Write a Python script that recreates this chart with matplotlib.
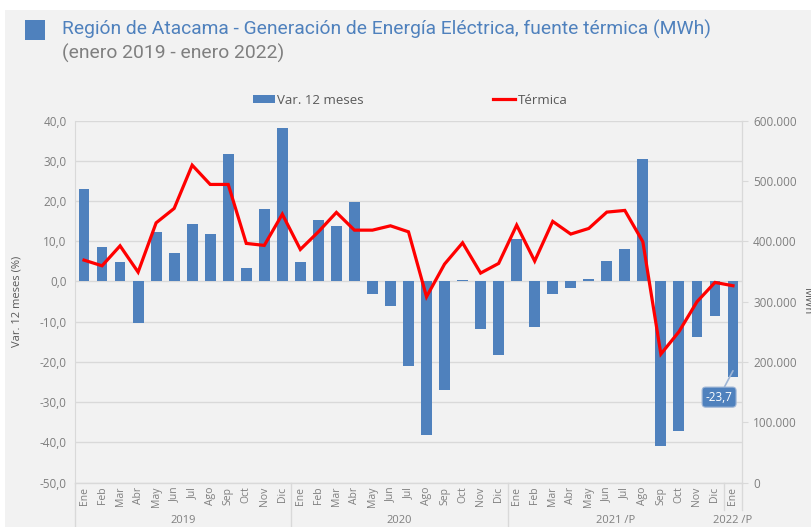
import matplotlib
matplotlib.use("Agg")
import matplotlib.pyplot as plt
from matplotlib.patches import Rectangle
from matplotlib.ticker import FuncFormatter, MultipleLocator

months = ["Ene", "Feb", "Mar", "Abr", "May", "Jun", "Jul", "Ago", "Sep", "Oct", "Nov", "Dic"] * 3 + ["Ene"]
years = ["2019", "2020", "2021 /P", "2022 /P"]
year_sizes = [12, 12, 12, 1]

var12 = [23.0, 8.7, 4.8, -10.4, 12.4, 7.1, 14.4, 11.8, 31.7, 3.3, 18.0, 38.1,
         4.8, 15.3, 13.9, 19.9, -3.2, -6.2, -20.9, -38.1, -26.9, 0.4, -11.8, -18.4,
         10.5, -11.3, -3.0, -1.7, 0.7, 5.0, 8.1, 30.4, -40.9, -37.1, -13.8, -8.7,
         -23.7]
termica = [368800, 359400, 392500, 348900, 430600, 454500, 526300, 494300, 494300, 396500, 393200, 445000,
           386500, 415700, 447900, 418500, 418500, 425700, 415700, 308000, 362200, 397500, 347300, 363300,
           426800, 367200, 433000, 412000, 421300, 448400, 451200, 399200, 213000, 250000, 299700, 331800,
           326300]

BLUE = "#4f81bd"
RED = "#ff0000"
GRAY_TXT = "#7f7f7f"
GRID = "#d9d9d9"
BG = "#f2f2f2"

plt.rcParams['font.family'] = ['Open Sans', 'DejaVu Sans']

W, H = 812, 527
fig = plt.figure(figsize=(W / 100, H / 100), dpi=100, facecolor="white")
fig.patches.append(Rectangle((5 / W, 0), 1, 1 - 10 / H, transform=fig.transFigure,
                             facecolor=BG, edgecolor="none", zorder=-10))

L, R, T, B = 75, 742, 120.7, 482.5
ax = fig.add_axes([L / W, 1 - B / H, (R - L) / W, (B - T) / H])
ax.set_facecolor(BG)
x = list(range(len(var12)))
ax.bar(x, var12, width=0.6, color=BLUE, zorder=2, label="Var. 12 meses")
ax.set_xlim(-0.5, len(var12) - 0.5)
ax.set_ylim(-50, 40)
ax.yaxis.set_major_locator(MultipleLocator(10))
ax.yaxis.set_major_formatter(FuncFormatter(lambda v, p: f"{v:.1f}".replace(".", ",")))
ax.grid(axis="y", color=GRID, lw=1, zorder=0)
ax.set_axisbelow(True)
ax.set_xticks(x)
ax.set_xticklabels(months, rotation=90, fontsize=7.5, color=GRAY_TXT)
ax.tick_params(axis="x", length=0, pad=3)
ax.tick_params(axis="y", length=0, labelsize=8.5, labelcolor=GRAY_TXT, pad=6)
for s in ["top", "bottom"]:
    ax.spines[s].set_visible(False)
ax.spines["left"].set_color(GRID)
ax.spines["right"].set_color(GRID)
ax.set_ylabel("Var. 12 meses (%)", fontsize=8, color="#595959", labelpad=12)

ax2 = ax.twinx()
ax2.plot(x, termica, color=RED, lw=2.3, label="Térmica", solid_joinstyle="miter", zorder=3)
ax2.set_ylim(0, 600000)
ax2.yaxis.set_major_locator(MultipleLocator(100000))
ax2.yaxis.set_major_formatter(FuncFormatter(lambda v, p: f"{int(v):,}".replace(",", ".")))
ax2.tick_params(axis="y", length=4, color=GRID, labelsize=8.5, labelcolor=GRAY_TXT, pad=4)
for s in ["top", "bottom", "left"]:
    ax2.spines[s].set_visible(False)
ax2.spines["right"].set_color(GRID)
ax2.set_ylabel("MWh", fontsize=8, color="#595959", rotation=-90, labelpad=11)

# year group labels and separators
start = 0
for yname, n in zip(years, year_sizes):
    ax.text(start + (n - 1) / 2, -0.105, yname, transform=ax.get_xaxis_transform(),
            ha="center", va="center", fontsize=8, color=GRAY_TXT)
    start += n
bounds = [0, 12, 24, 36, 37]
for i, b in enumerate(bounds):
    y0 = -0.13 if b in (0, 12, 24) else -0.075
    ax.plot([b - 0.5, b - 0.5], [0, y0], transform=ax.get_xaxis_transform(),
            color=GRID, lw=1, clip_on=False)
ax.plot([-0.5, len(var12) - 0.5], [0, 0], transform=ax.get_xaxis_transform(), color=GRID, lw=1, clip_on=False)

# data label for last bar
ax2.annotate(f"{var12[-1]:.1f}".replace(".", ","), xy=(36, var12[-1] + 1.5), xycoords=ax.transData,
             xytext=(-10, -19), textcoords="offset points", ha="center", va="center",
             fontsize=8.5, color="white",
             bbox=dict(boxstyle="round,pad=0.3,rounding_size=0.3", fc=BLUE, ec="#9fb6d6", lw=0.8),
             arrowprops=dict(arrowstyle="-", color="#9fb6d6", lw=1.2, shrinkA=0, shrinkB=0), zorder=5)

# legend
h1, l1 = ax.get_legend_handles_labels()
h2, l2 = ax2.get_legend_handles_labels()
fig.legend(h1 + h2, l1 + l2, loc="center", bbox_to_anchor=(410 / W, 1 - 100 / H), ncol=2,
           frameon=False, fontsize=9.5, labelcolor="#595959", handlelength=1.7, handleheight=0.5,
           handletextpad=0.15, columnspacing=9.8)

# title
fig.patches.append(Rectangle((25 / W, 1 - 40 / H), 20 / W, 20 / H, transform=fig.transFigure,
                             facecolor=BLUE, edgecolor="none"))
fig.text(62 / W, 1 - 29 / H, "Región de Atacama - Generación de Energía Eléctrica, fuente térmica (MWh)",
         fontsize=13.9, color=BLUE, va="center", ha="left", family=["Roboto", "DejaVu Sans"])
fig.text(62 / W, 1 - 53 / H, "(enero 2019 - enero 2022)", fontsize=13.9, color="#7f7f7f",
         va="center", ha="left", family=["Roboto", "DejaVu Sans"])

fig.savefig("out.png", dpi=100, facecolor=fig.get_facecolor())
